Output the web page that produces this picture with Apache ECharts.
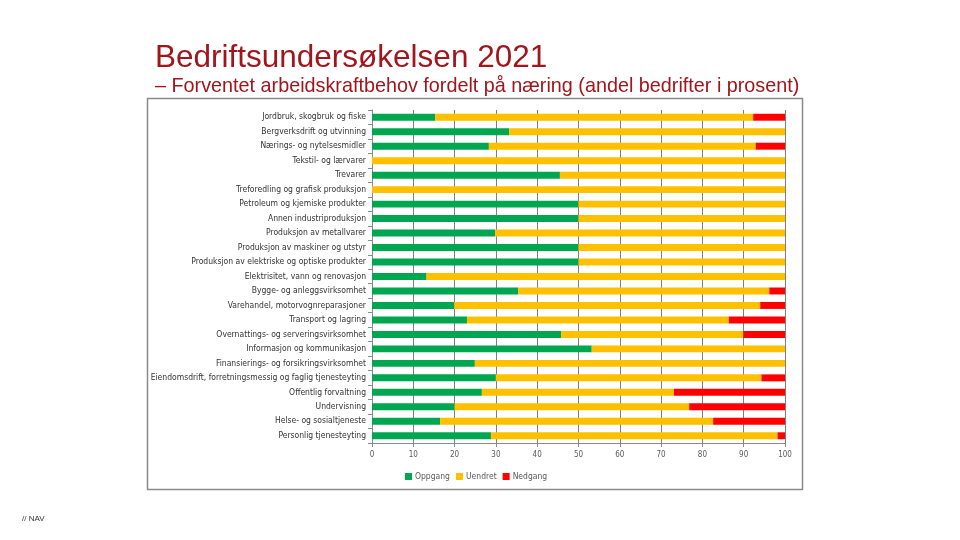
<!DOCTYPE html>
<html>
<head>
<meta charset="utf-8">
<script src="https://cdn.jsdelivr.net/npm/echarts@6/dist/echarts.min.js"></script>
<style>html,body{margin:0;padding:0;background:#fff;}#c{width:960px;height:540px;}</style>
</head>
<body>
<div id="c"></div>
<script>
var categories = [
  "Jordbruk, skogbruk og fiske",
  "Bergverksdrift og utvinning",
  "Nærings- og nytelsesmidler",
  "Tekstil- og lærvarer",
  "Trevarer",
  "Treforedling og grafisk produksjon",
  "Petroleum og kjemiske produkter",
  "Annen industriproduksjon",
  "Produksjon av metallvarer",
  "Produksjon av maskiner og utstyr",
  "Produksjon av elektriske og optiske produkter",
  "Elektrisitet, vann og renovasjon",
  "Bygge- og anleggsvirksomhet",
  "Varehandel, motorvognreparasjoner",
  "Transport og lagring",
  "Overnattings- og serveringsvirksomhet",
  "Informasjon og kommunikasjon",
  "Finansierings- og forsikringsvirksomhet",
  "Eiendomsdrift, forretningsmessig og faglig tjenesteyting",
  "Offentlig forvaltning",
  "Undervisning",
  "Helse- og sosialtjeneste",
  "Personlig tjenesteyting"
];
var oppgang = [15.3, 33.2, 28.3, 0, 45.5, 0, 50, 50, 29.8, 50, 50, 13.2, 35.4, 19.9, 23, 45.8, 53.2, 24.9, 30, 26.6, 20, 16.5, 28.8];
var uendret = [77.0, 66.8, 64.6, 100, 54.5, 100, 50, 50, 70.2, 50, 50, 86.8, 60.8, 74.1, 63.4, 44.1, 46.8, 75.1, 64.3, 46.5, 56.8, 66.1, 69.4];
var nedgang = [7.7, 0, 7.1, 0, 0, 0, 0, 0, 0, 0, 0, 0, 3.8, 6.0, 13.6, 10.1, 0, 0, 5.7, 26.9, 23.2, 17.4, 1.8];
var seriesNames = ["Oppgang", "Uendret", "Nedgang"];
var xTicks = {min: 0, max: 100, interval: 10};

var chart = echarts.init(document.getElementById('c'));
var labelFont = "Liberation Sans Narrow, 'DejaVu Sans Condensed', Arial, sans-serif";
var colors = ['#00A650', '#FFC000', '#FF0000'];
var data = [oppgang, uendret, nedgang];
chart.setOption({
  animation: false,
  backgroundColor: '#fff',
  title: [
    {text: 'Bedriftsundersøkelsen 2021', left: 150, top: 37,
     textStyle: {fontFamily: 'Liberation Sans, Arial, sans-serif', fontSize: 31.5, fontWeight: 'normal', color: '#A1161C'}},
    {text: '– Forventet arbeidskraftbehov fordelt på næring (andel bedrifter i prosent)', left: 150, top: 72,
     textStyle: {fontFamily: 'Liberation Sans, Arial, sans-serif', fontSize: 19.8, fontWeight: 'normal', color: '#A1161C'}},
    {text: '// NAV', left: 17, top: 510,
     textStyle: {fontFamily: 'Liberation Sans, Arial, sans-serif', fontSize: 8, fontWeight: 'normal', color: '#333'}}
  ],
  graphic: [{type: 'rect', shape: {x: 147.5, y: 98.5, width: 655, height: 391},
    style: {fill: 'none', stroke: '#8a8a8a', lineWidth: 1.5}, silent: true}],
  legend: {
    data: seriesNames, left: 400, top: 467, itemWidth: 7, itemHeight: 7, itemGap: 6,
    icon: 'rect',
    textStyle: {fontFamily: labelFont, fontSize: 8.5, color: '#595959', padding: [0, 0, 0, -2]}
  },
  grid: {left: 372, right: 175, top: 110, bottom: 97, containLabel: false},
  xAxis: {
    type: 'value', min: xTicks.min, max: xTicks.max, interval: xTicks.interval,
    axisLine: {show: true, lineStyle: {color: '#8a8a8a'}},
    axisTick: {show: true, length: 4, lineStyle: {color: '#8a8a8a'}},
    axisLabel: {fontFamily: labelFont, fontSize: 8, color: '#595959', margin: 8},
    splitLine: {show: true, lineStyle: {color: '#7f7f7f', width: 1}}
  },
  yAxis: {
    type: 'category', data: categories, inverse: true,
    axisLine: {show: true, lineStyle: {color: '#8a8a8a'}},
    axisTick: {show: true, length: 4, lineStyle: {color: '#8a8a8a'}},
    axisLabel: {fontFamily: labelFont, fontSize: 8.5, color: '#333', margin: 6}
  },
  series: seriesNames.map(function (n, i) {
    return {name: n, type: 'bar', stack: 'tot', data: data[i], barWidth: '48%',
      itemStyle: {color: colors[i]}};
  })
});
</script>
</body>
</html>
